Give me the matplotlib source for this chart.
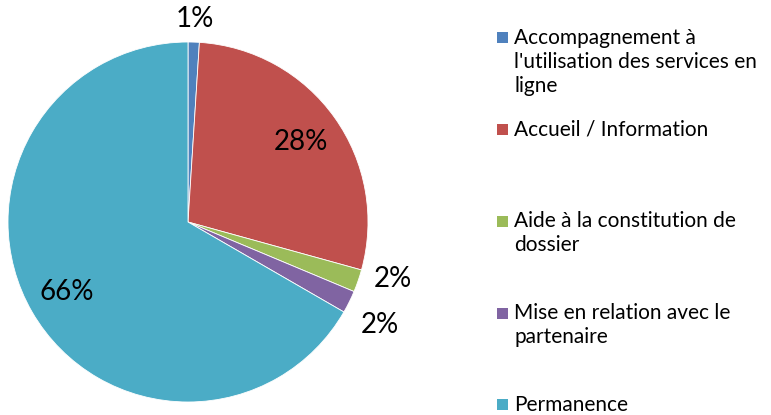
import matplotlib
matplotlib.use("Agg")
import matplotlib.pyplot as plt
from matplotlib.patches import Rectangle
import numpy as np

categories = [
    "Accompagnement à\nl'utilisation des services en\nligne",
    "Accueil / Information",
    "Aide à la constitution de\ndossier",
    "Mise en relation avec le\npartenaire",
    "Permanence",
]
values = [1, 28, 2, 2, 66]
colors = ["#4F81BD", "#C0504D", "#9BBB59", "#8064A2", "#4BACC6"]

# label distance from centre and small angle nudge (degrees) per slice
label_radius = [1.13, 0.77, 1.18, 1.21, 0.78]
label_nudge = [0, 0, 3.5, -2.0, 0]

plt.rcParams["font.family"] = ["Lato", "DejaVu Sans"]

fig = plt.figure(figsize=(7.71, 4.15), dpi=100)
ax = fig.add_axes([8 / 771, 13 / 415, 360 / 771, 360 / 415])

wedges, _ = ax.pie(
    values,
    colors=colors,
    startangle=90,
    counterclock=False,
    radius=1.0,
    wedgeprops=dict(edgecolor="white", linewidth=0.6),
)
ax.set_xlim(-1, 1)
ax.set_ylim(-1, 1)
ax.set_aspect("equal")
ax.axis("off")

for w, v, r, nudge in zip(wedges, values, label_radius, label_nudge):
    mid = np.deg2rad((w.theta1 + w.theta2) / 2 + nudge)
    ax.text(r * np.cos(mid), r * np.sin(mid), f"{v}%",
            ha="center", va="center", fontsize=20, color="black",
            clip_on=False)

# legend drawn by hand so the square lines up with the first text line
legend_top = 38
legend_step = 91.7
for i, (cat, col) in enumerate(zip(categories, colors)):
    yc = legend_top + i * legend_step
    fig.patches.append(Rectangle((497 / 771, 1 - (yc + 5.5) / 415),
                                 11 / 771, 11 / 415,
                                 transform=fig.transFigure,
                                 facecolor=col, edgecolor="none"))
    fig.text(514 / 771, 1 - (yc - 10) / 415, cat, ha="left", va="top",
             fontsize=15, color="black", linespacing=1.25)

fig.savefig("out.png", dpi=100)
